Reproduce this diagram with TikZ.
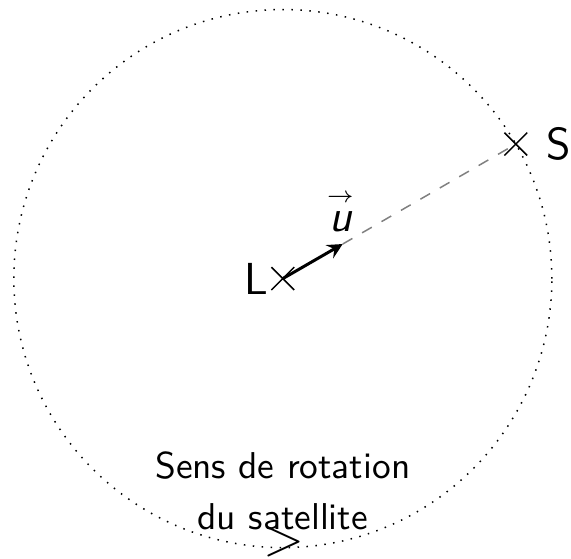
\documentclass[tikz,border=0pt]{standalone}
\usepackage{amsmath}
\usepackage{amssymb}
\usepackage{tikz}
\usetikzlibrary{shapes.misc, positioning}
\renewcommand{\familydefault}{\sfdefault}

\begin{document}
\begin{tikzpicture}[point/.style={cross out, draw, thin, minimum size=0.2cm, inner sep=0pt}]
				\useasboundingbox (-2.66,-2.63) rectangle (2.71,2.62);
				\draw[dotted] (0,0) circle (2.53);
				\node[point] (L) at (0,0) {};
				\node[point] (S) at (30:2.53) {};
				\coordinate (U) at (30:0.65);
				\node[left=0.02cm of L, inner sep=0pt, font=\large] (Llab) {L};
				\node[right=0.17cm of S, inner sep=0pt, font=\large] (Slab) {S};
				\draw[gray, dashed] (U) -- (S.center);
				\draw[black, thick, -stealth] (L.center) -- (U);
				\node[font=\large] at (0.54,0.64) (ulab) {$\overset{\scriptscriptstyle\rightarrow}{\textsf{\itshape u}}$};
				\node at (0,-1.76) (t1) {Sens\ de\ rotation};
				\node at (0,-2.24) (t2) {du\ satellite};
				\node[font=\Large, inner sep=0pt] at (0.01,-2.48) (sens) {$>$};
			\end{tikzpicture}
\end{document}
